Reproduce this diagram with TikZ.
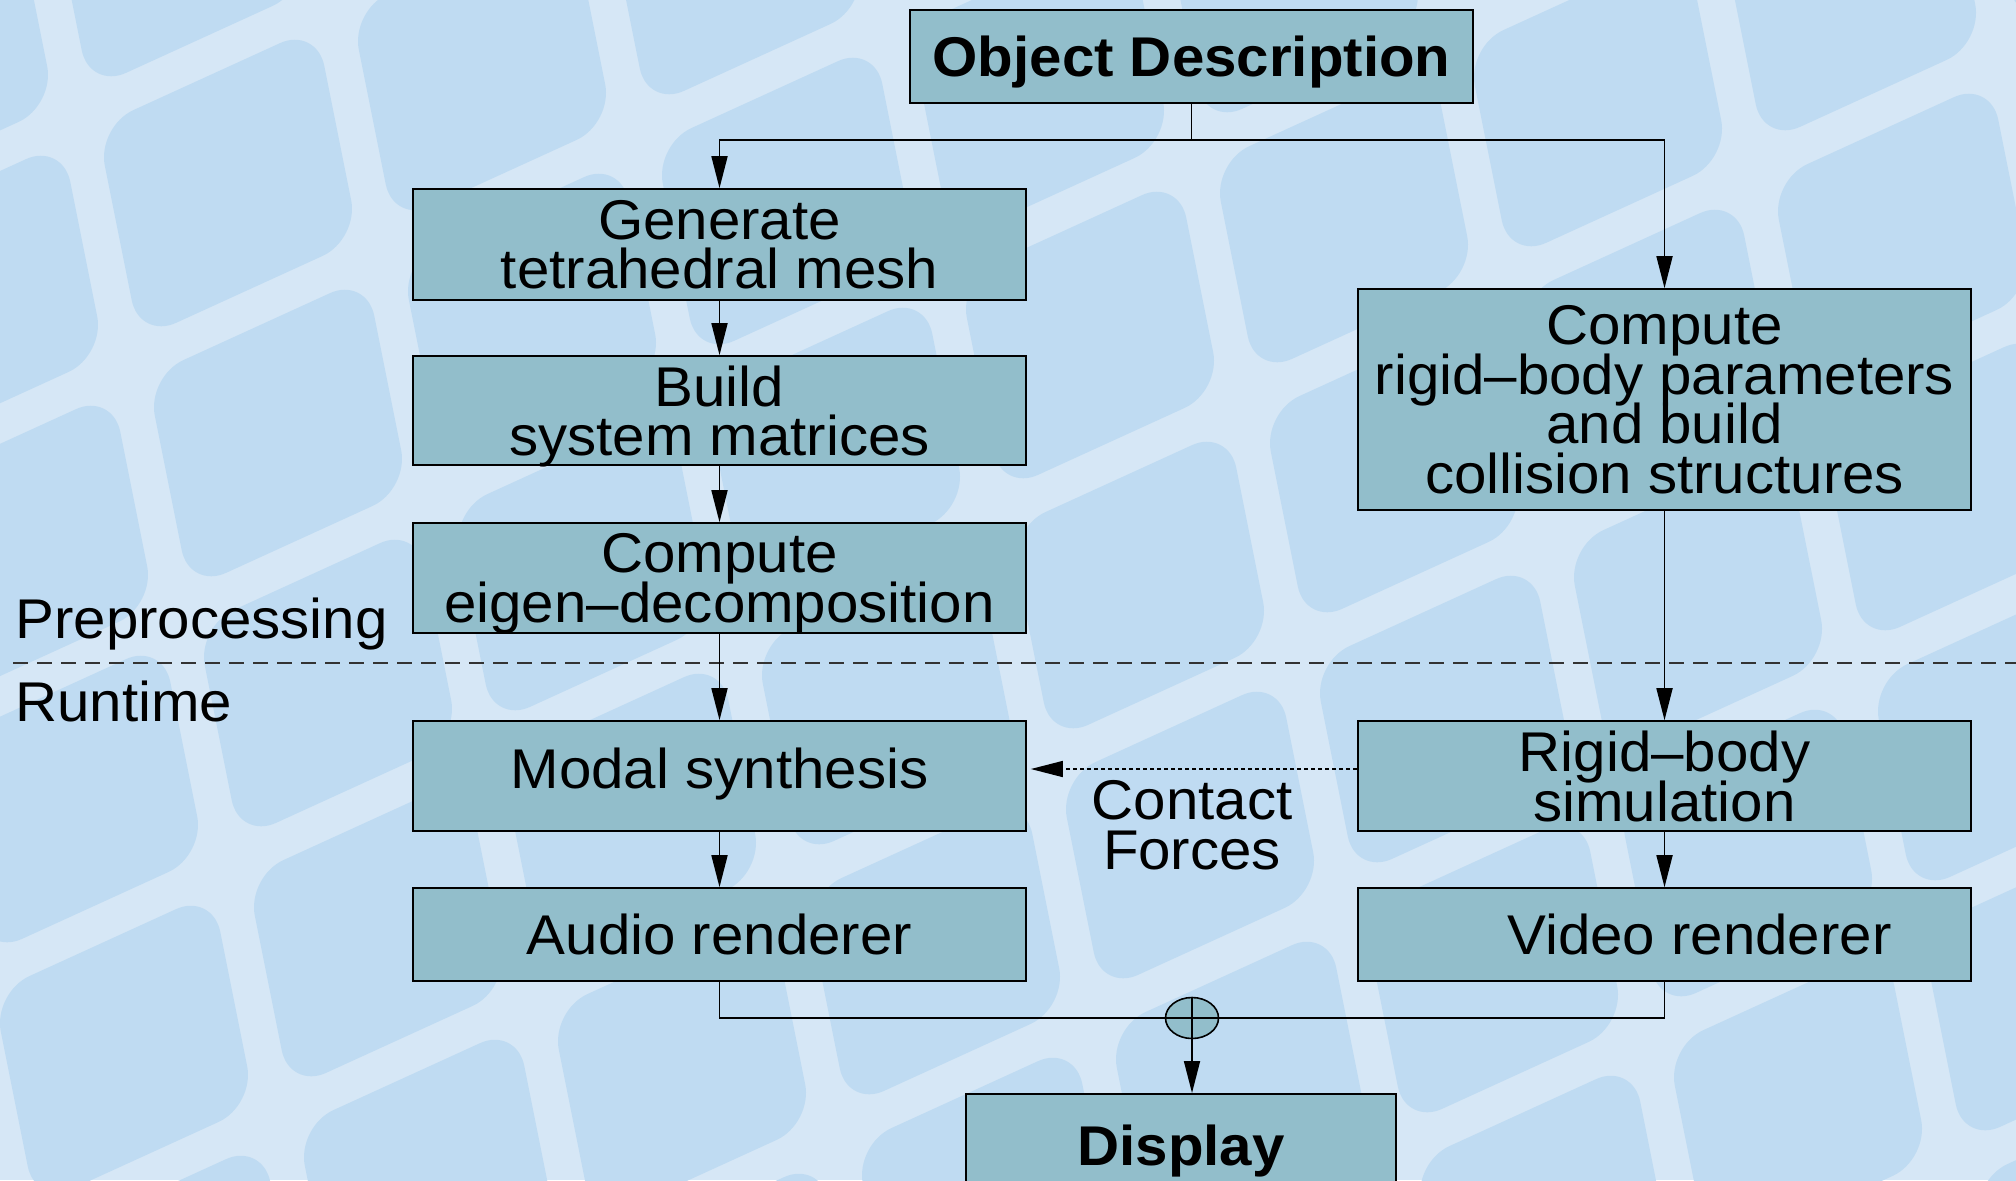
\documentclass[tikz,border=0pt]{standalone}
\usepackage{fontspec}
\setmainfont{Liberation Sans}[FakeStretch=1.04]
\usetikzlibrary{arrows.meta,shapes.geometric}
\definecolor{bgstripe}{HTML}{D6E7F6}
\definecolor{bgtile}{HTML}{BFDBF2}
\definecolor{boxfill}{HTML}{92BECB}
\newcommand{\boxfont}{\fontsize{28}{24.75}\selectfont\lineskiplimit=-100pt\lineskip=0pt}
\tikzset{
  blk/.style={draw=black, line width=0.8pt, fill=boxfill, align=center, inner sep=0pt,
    font=\boxfont, minimum width=306.5pt, text depth=0pt},
  conn/.style={line width=0.85pt, draw=black},
  arr/.style={conn, -{Triangle[length=16pt,width=8pt]}},
  lbl/.style={font=\boxfont, inner sep=0pt, align=center},
  tile/.style={fill=bgtile, rounded corners=20pt},
}
\begin{document}
\begin{tikzpicture}[x=0.5pt,y=-0.5pt]
\useasboundingbox (0,0) rectangle (2016,1180);
\begin{scope}
\clip (0,0) rectangle (2016,1180);
\fill[bgstripe] (0,0) rectangle (2016,1180);
\foreach \i in {-3,...,6}{
  \foreach \j in {-2,...,7}{
    \pgfmathsetmacro\cx{380+(\i+0.5)*254+(\j+0.5)*50}
    \pgfmathsetmacro\cy{250-(\i+0.5)*116+(\j+0.5)*250}
    \fill[tile] ({\cx-131.0},{\cy-56.3}) -- ({\cx+88.4},{\cy-156.5}) -- ({\cx+131.0},{\cy+56.3}) -- ({\cx-88.4},{\cy+156.5}) -- cycle;
  }
}

% nodes
\node[blk, minimum width=281.5pt, minimum height=46.5pt, font=\boxfont\bfseries] (obj) at (1191.5,56.5) {Object Description};
\node[blk, minimum height=55.5pt] (gen) at (719.5,244.5) {Generate\\tetrahedral mesh};
\node[blk, minimum height=54.5pt] (build) at (719.5,410.5) {Build\\system matrices};
\node[blk, minimum height=55pt] (eig) at (719.5,578) {Compute\\eigen–decomposition};
\node[blk, minimum height=110.5pt] (rig) at (1664.5,399.5) {Compute\\rigid–body parameters\\and build\\collision structures};
\node[blk, minimum height=55pt] (modal) at (719.5,776) {\raisebox{8pt}{Modal synthesis}};
\node[blk, minimum height=55pt] (rsim) at (1664.5,776) {Rigid–body\\simulation};
\node[blk, minimum height=46.5pt] (audio) at (719.5,934.5) {Audio renderer};
\node[blk, minimum height=46.5pt] (video) at (1664.5,934.5) {\hspace*{35pt}Video renderer};
\node[blk, minimum width=215pt, minimum height=51pt, anchor=north, font=\boxfont\bfseries] (disp) at (1181,1093) {Display};
\node[draw=black, line width=0.8pt, fill=boxfill, ellipse, minimum width=26.5pt, minimum height=20.5pt, inner sep=0pt] (junc) at (1192,1018) {};
\draw[line width=0.8pt] (junc.north) -- (junc.south) (junc.west) -- (junc.east);

\node[lbl] (cf) at (1192,825) {Contact\\Forces};
\node[lbl, anchor=base west] (pre) at (15,638) {Preprocessing};
\node[lbl, anchor=base west] (run) at (15,721) {Runtime};

% dashed separator
\coordinate (dl) at (13,663);
\coordinate (dr) at (2016,663);
\draw[line width=0.7pt, draw=black!80, dash pattern=on 7.5pt off 4.5pt] (dl) -- (dr);

% connectors
\coordinate (split) at (1191.5,140);
\draw[conn] (obj.south) -- (split);
\draw[arr] (split) -| (gen.north);
\draw[arr] (split) -| (rig.north);
\draw[arr] (gen.south) -- (build.north);
\draw[arr] (build.south) -- (eig.north);
\draw[arr] (eig.south) -- (modal.north);
\draw[arr] (rig.south) -- (rsim.north);
\draw[arr] (modal.south) -- (audio.north);
\draw[arr] (rsim.south) -- (video.north);
\draw[line width=0.7pt, dash pattern=on 2pt off 1.5pt, -{Triangle[length=16pt,width=8pt]}, shorten >=2pt] ([yshift=3.5pt]rsim.west) -- ([yshift=3.5pt]modal.east);
\draw[conn] (audio.south) |- (junc.west);
\draw[conn] (video.south) |- (junc.east);
\draw[arr] (junc.south) -- (junc.south |- disp.north);
\end{scope}
\end{tikzpicture}
\end{document}
